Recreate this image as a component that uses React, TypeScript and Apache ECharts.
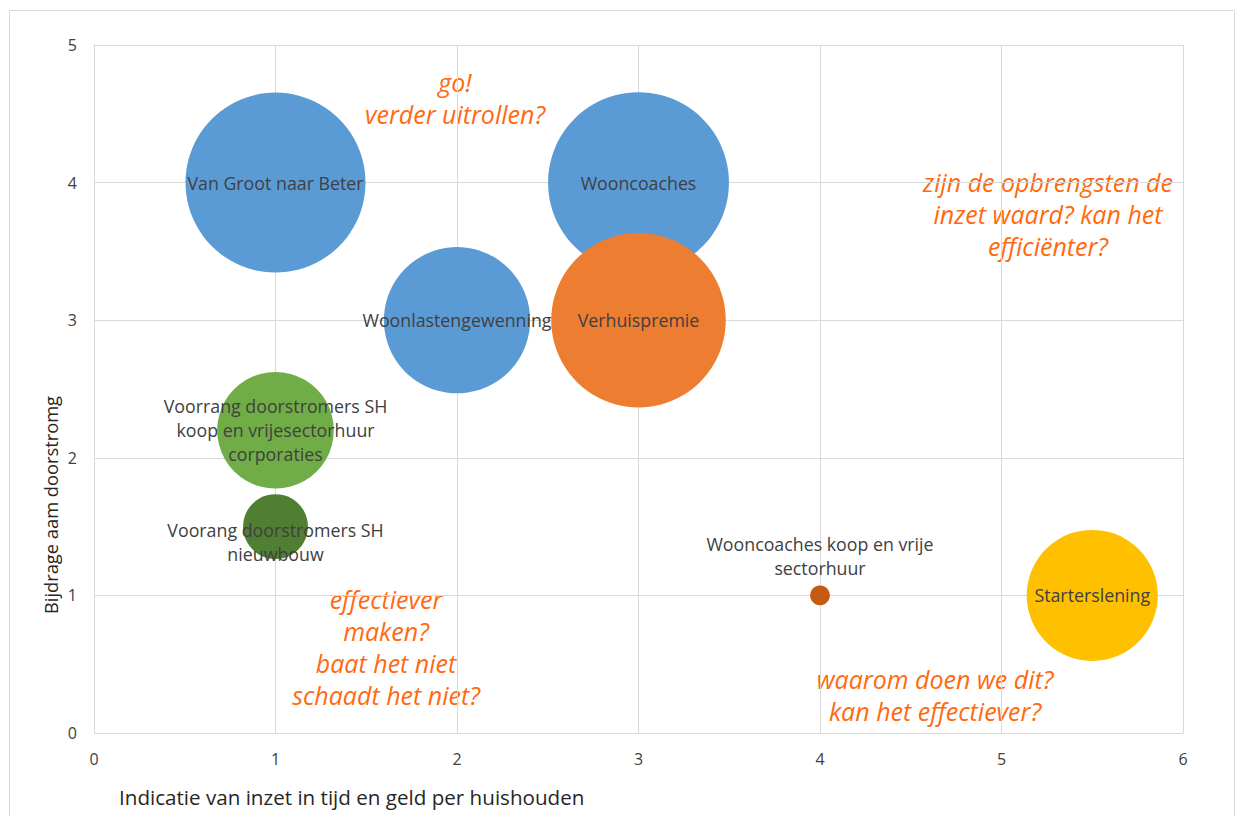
import React, { useEffect, useRef } from "react";
import * as echarts from "echarts";

const names = [
  "Van Groot naar Beter",
  "Wooncoaches",
  "Woonlastengewenning",
  "Verhuispremie",
  "Voorrang doorstromers SH\nkoop en vrijesectorhuur\ncorporaties",
  "Voorang doorstromers SH\nnieuwbouw",
  "Wooncoaches koop en vrije\nsectorhuur",
  "Starterslening",
];
const xValues = [1, 3, 2, 3, 1, 1, 4, 5.5];
const yValues = [4, 4, 3, 3, 2.2, 1.5, 1, 1];
const bubbleSizes = [100, 101, 66, 94, 42, 13, 1.2, 53];
const colors = ["#5B9BD5", "#5B9BD5", "#5B9BD5", "#ED7D31", "#70AD47", "#507E32", "#C55A11", "#FFC000"];

const xTicks = [0, 1, 2, 3, 4, 5, 6];
const yTicks = [0, 1, 2, 3, 4, 5];

const annotations = [
  { text: "go!\nverder uitrollen?", x: 455, y: 98 },
  { text: "zijn de opbrengsten de\ninzet waard? kan het\nefficiënter?", x: 1048, y: 214 },
  { text: "effectiever\nmaken?\nbaat het niet\nschaadt het niet?", x: 386, y: 647 },
  { text: "waarom doen we dit?\nkan het effectiever?", x: 935, y: 695 },
];

const FONT = "Open Sans";

export default function App() {
  const ref = useRef<HTMLDivElement>(null);
  useEffect(() => {
    if (!ref.current) return;
    const chart = echarts.init(ref.current, null, { renderer: "svg" });
    const data = names.map((n, i) => {
      const item: any = {
        name: n,
        value: [xValues[i], yValues[i], bubbleSizes[i]],
        itemStyle: { color: colors[i], opacity: 1 },
      };
      if (i === 6) {
        item.label = { position: "top", distance: 6 };
      }
      if (i === 5) {
        item.label = { offset: [0, 15] };
      }
      return item;
    });
    chart.setOption({
      animation: false,
      backgroundColor: "#ffffff",
      grid: { left: 94, right: 57, top: 45, bottom: 83, containLabel: false },
      xAxis: {
        type: "value",
        min: xTicks[0],
        max: xTicks[xTicks.length - 1],
        interval: 1,
        axisLine: { show: true, lineStyle: { color: "#d9d9d9", width: 1 } },
        axisTick: { show: false },
        splitLine: { show: true, lineStyle: { color: "#d9d9d9", width: 1 } },
        axisLabel: { color: "#404040", fontSize: 16, margin: 18, fontFamily: FONT },
      },
      yAxis: {
        type: "value",
        min: yTicks[0],
        max: yTicks[yTicks.length - 1],
        interval: 1,
        axisLine: { show: true, lineStyle: { color: "#d9d9d9", width: 1 } },
        axisTick: { show: false },
        splitLine: { show: true, lineStyle: { color: "#d9d9d9", width: 1 } },
        axisLabel: { color: "#404040", fontSize: 16, margin: 17, fontFamily: FONT },
      },
      series: [
        {
          type: "scatter",
          data,
          symbolSize: (val: number[]) => 18 * Math.sqrt(val[2]),
          label: {
            show: true,
            position: "inside",
            formatter: (p: any) => p.name,
            color: "#404040",
            fontSize: 17.8,
            lineHeight: 24,
            fontFamily: FONT,
            align: "center",
          },
          emphasis: { disabled: true },
        },
      ],
      graphic: [
        {
          type: "rect",
          shape: { x: 9.5, y: 10.5, width: 1225, height: 830 },
          style: { fill: "none", stroke: "#d9d9d9", lineWidth: 1 },
          silent: true,
        },
        {
          type: "text",
          x: 119,
          y: 797,
          style: {
            text: "Indicatie van inzet in tijd en geld per huishouden",
            fill: "#262626",
            fontSize: 20.6,
            fontFamily: FONT,
            verticalAlign: "middle",
          },
        },
        {
          type: "text",
          x: 50,
          y: 505,
          rotation: Math.PI / 2,
          style: {
            text: "Bijdrage aam doorstromg",
            fill: "#262626",
            fontSize: 18.3,
            fontFamily: FONT,
            align: "center",
            verticalAlign: "middle",
          },
        },
        ...annotations.map((a) => ({
          type: "text",
          x: a.x,
          y: a.y,
          style: {
            text: a.text,
            fill: "#FF6A10",
            fontSize: 25,
            fontStyle: "italic",
            fontFamily: FONT,
            lineHeight: 32,
            align: "center",
            verticalAlign: "middle",
          },
        })),
      ],
    });
    return () => chart.dispose();
  }, []);
  return (
    <div
      ref={ref}
      style={{ position: "fixed", left: 0, top: 0, width: 1240, height: 816 }}
    />
  );
}
